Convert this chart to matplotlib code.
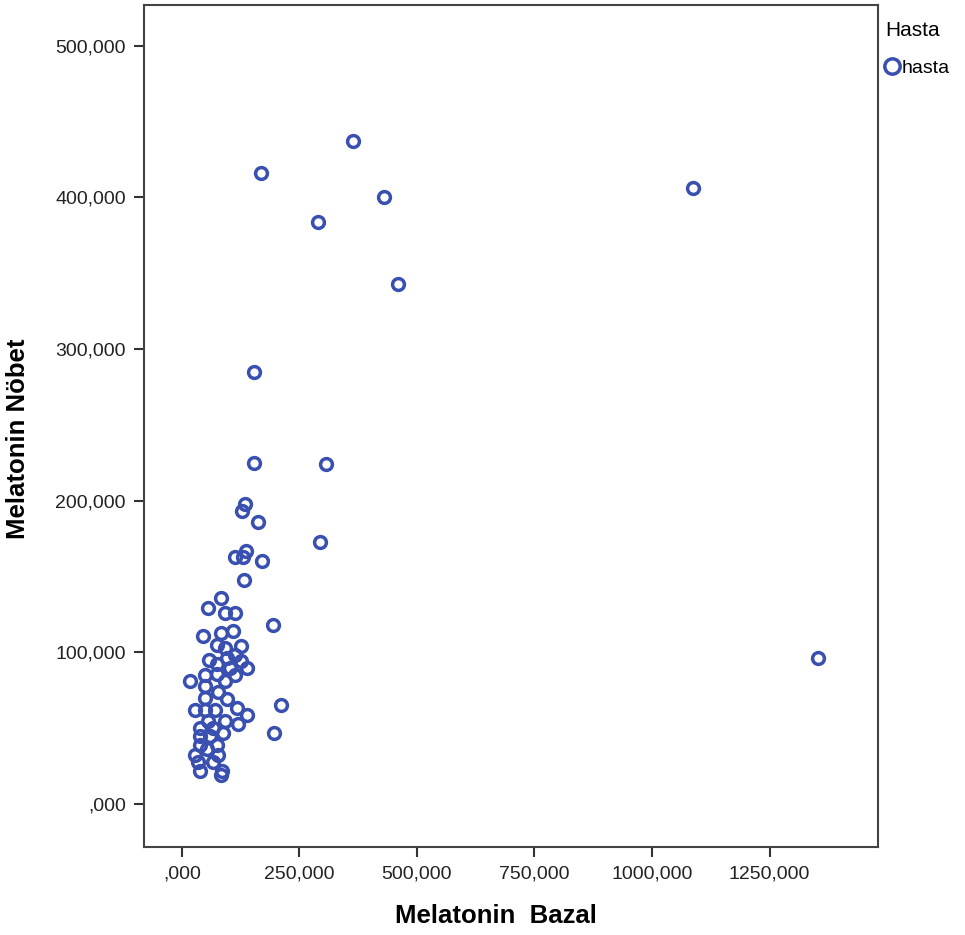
import matplotlib
matplotlib.use("Agg")
import matplotlib.pyplot as plt
from matplotlib.ticker import FuncFormatter, FixedLocator

plt.rcParams['font.family'] = ['Liberation Sans', 'DejaVu Sans']

# Melatonin Bazal (x) and Melatonin Nöbet (y)
bazal = [1353, 1087, 364, 430, 168, 289, 460, 153, 153, 306,
         294, 134, 128, 162, 136, 130, 113, 170, 132, 194,
         83, 55, 91, 113, 45, 83, 109, 126, 91, 74,
         113, 57, 96, 138, 102, 74, 126, 17, 49, 113,
         74, 49, 91, 77, 49, 96, 28, 49, 70, 117,
         138, 55, 91, 119, 38, 66, 87, 38, 60, 38,
         74, 53, 28, 77, 66, 34, 38, 85, 83, 211, 196]
nobet = [96, 406, 437, 400, 416, 384, 343, 285, 225, 224,
         173, 198, 193, 186, 167, 163, 163, 160, 148, 118,
         136, 129, 126, 126, 111, 113, 114, 104, 103, 105,
         98, 95, 96, 90, 90, 92, 94, 81, 85, 85,
         86, 78, 81, 74, 70, 69, 62, 62, 62, 63,
         59, 55, 55, 53, 50, 50, 47, 45, 45, 39,
         39, 36, 32, 32, 28, 28, 22, 22, 19, 65, 47]

x_ticks = [0, 250, 500, 750, 1000, 1250]
y_ticks = [0, 100, 200, 300, 400, 500]

blue = '#3a50b0'


def spss_fmt(v, pos=None):
    # SPSS style with decimal comma: 250,000 / ,000
    s = f"{v:.3f}"
    whole, frac = s.split('.')
    if whole == '0':
        whole = ''
    return f"{whole},{frac}"


fig = plt.figure(figsize=(9.65, 9.35), dpi=100)
ax = fig.add_axes([0.149, 0.094, 0.761, 0.901])

pts, = ax.plot(bazal, nobet, linestyle='none', marker='o', markersize=8.5,
               markerfacecolor='none', markeredgecolor=blue, markeredgewidth=2.5,
               label='hasta')

ax.set_xlim(-81, 1481)
ax.set_ylim(-28.4, 527)
ax.xaxis.set_major_locator(FixedLocator(x_ticks))
ax.yaxis.set_major_locator(FixedLocator(y_ticks))
ax.xaxis.set_major_formatter(FuncFormatter(spss_fmt))
ax.yaxis.set_major_formatter(FuncFormatter(spss_fmt))
ax.tick_params(direction='out', length=7, width=1.5, color='#333333',
               labelsize=14, labelcolor='#222222', pad=6)

for sp in ax.spines.values():
    sp.set_linewidth(1.5)
    sp.set_color('#444444')

ax.set_xlabel('Melatonin  Bazal', fontsize=18.5, fontweight='bold', labelpad=16)
ax.set_ylabel('Melatonin Nöbet', fontsize=18.5, fontweight='bold', labelpad=12)
ax.xaxis.set_label_coords(0.48, -0.068)
ax.yaxis.set_label_coords(-0.155, 0.485)

leg = fig.legend(handles=[pts], title='Hasta', loc='upper left',
                 bbox_to_anchor=(0.913, 0.982), frameon=False, fontsize=14,
                 title_fontsize=15, handlelength=0.7, handletextpad=0.15,
                 borderaxespad=0, borderpad=0.2, labelspacing=0.8,
                 markerscale=1.3)
leg._legend_box.sep = 14
leg._legend_box.align = 'left'

fig.savefig('out.png', dpi=100)
